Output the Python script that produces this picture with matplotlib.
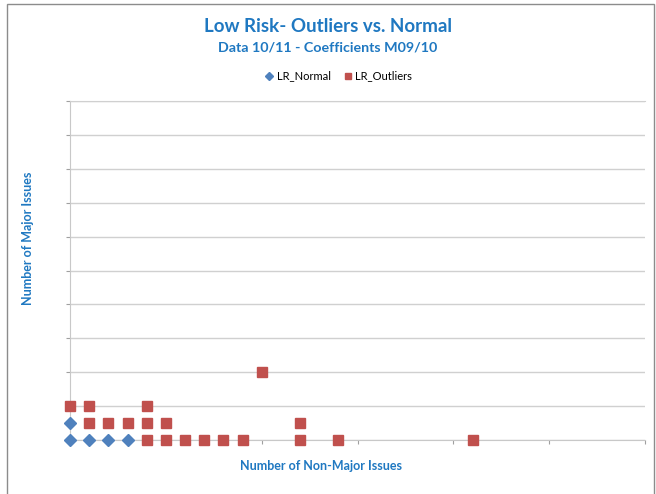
import matplotlib.pyplot as plt
from matplotlib.patches import Rectangle

plt.rcParams['font.family'] = ['Lato', 'DejaVu Sans']

title = "Low Risk- Outliers vs. Normal"
subtitle = "Data 10/11 - Coefficients M09/10"

# LR_Normal
normal_x = [0, 1, 2, 3, 0]
normal_y = [0, 0, 0, 0, 1]

# LR_Outliers
outlier_x = [0, 1, 4, 1, 2, 3, 4, 5, 12, 4, 5, 6, 7, 8, 9, 12, 14, 21, 10]
outlier_y = [2, 2, 2, 1, 1, 1, 1, 1, 1, 0, 0, 0, 0, 0, 0, 0, 0, 0, 4]

blue = "#4F81BD"
red = "#C0504D"
text_blue = "#1F78C1"

fig = plt.figure(figsize=(6.56, 4.94), dpi=100)
fig.patches.append(Rectangle((7 / 656, -0.01), 647 / 656, 0.006 + 1 - 2 / 494,
                             transform=fig.transFigure, fill=False,
                             edgecolor="#8C8C8C", linewidth=1.0))

ax = fig.add_axes([70 / 656, 54 / 494, 575 / 656, 339 / 494])
ax.set_xlim(0, 30)
ax.set_ylim(0, 20)
ax.set_xticks(range(0, 31, 5))
ax.set_yticks(range(0, 21, 2))
ax.set_xticklabels([])
ax.set_yticklabels([])
ax.grid(axis="y", color="#D0D0D0", linewidth=1.0)
ax.set_axisbelow(True)
ax.spines["right"].set_visible(False)
ax.spines["top"].set_color("#D0D0D0")
ax.spines["left"].set_color("#C8C8C8")
ax.spines["bottom"].set_color("#C8C8C8")
ax.tick_params(axis="both", length=3, color="#A0A0A0", direction="out")

ax.plot(normal_x, normal_y, linestyle="none", marker="D", markersize=6,
        color=blue, label="LR_Normal", clip_on=False, zorder=3)
ax.plot(outlier_x, outlier_y, linestyle="none", marker="s", markersize=7,
        color=red, label="LR_Outliers", clip_on=False, zorder=3)

fig.text(0.5, 1 - 27 / 494, title, ha="center", va="center", fontsize=13.5,
         fontweight="bold", color=text_blue)
fig.text(0.5, 1 - 47 / 494, subtitle, ha="center", va="center", fontsize=10.3,
         fontweight="bold", color=text_blue)
fig.legend(loc="center", bbox_to_anchor=(338 / 656, 1 - 76 / 494), ncol=2, frameon=False,
           fontsize=8, handletextpad=0.2, columnspacing=1.0, handlelength=1,
           markerscale=0.7)

fig.text(321 / 656, 1 - 466 / 494, "Number of Non-Major Issues", ha="center",
         va="center", fontsize=9, fontweight="bold", color=text_blue)
fig.text(28 / 656, 1 - 238 / 494, "Number of Major Issues", ha="center",
         va="center", rotation=90, fontsize=9, fontweight="bold", color=text_blue)

fig.savefig("out.png", dpi=100)
